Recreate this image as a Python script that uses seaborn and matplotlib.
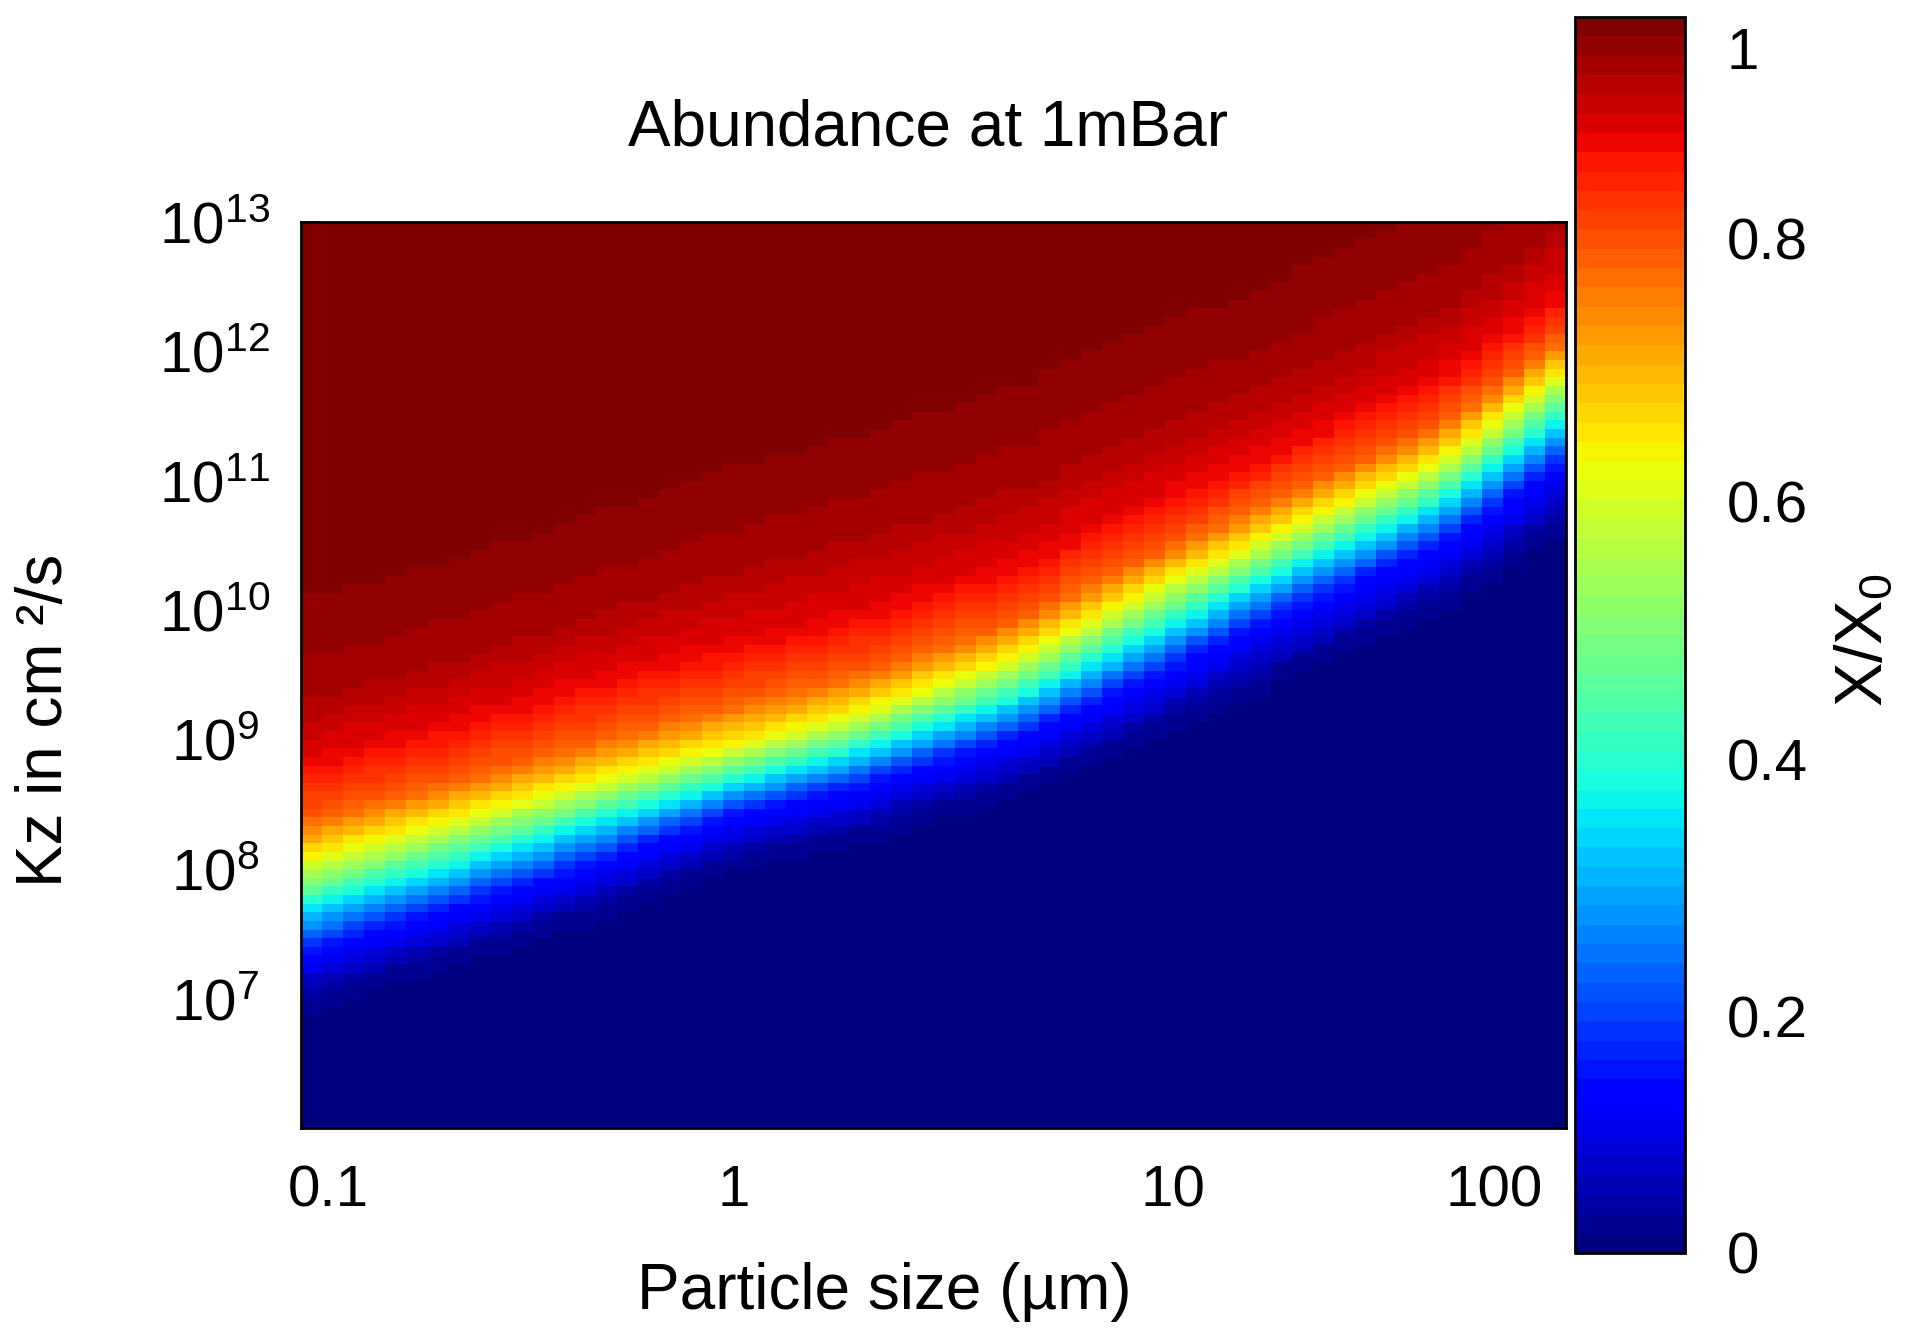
import numpy as np
import pandas as pd
import matplotlib
matplotlib.use("Agg")
import matplotlib.pyplot as plt
import seaborn as sns

# ---------------- data ----------------
# particle sizes (µm) at which the colour contours were read
size_pts = [0.1, 0.2, 0.5, 1, 2, 5, 10, 20, 50, 100]
# abundance levels (X/X0) of the read contours
levels = [0.02, 0.15, 0.38, 0.63, 0.80, 0.90, 0.96, 0.995]
# log10(Kz) position of each level contour at every size in size_pts
lvl_002 = [6.97, 7.28, 7.68, 8.05, 8.26, 8.64, 9.05, 9.50, 10.05, 10.70]
lvl_015 = [7.37, 7.66, 8.06, 8.41, 8.63, 9.03, 9.47, 9.95, 10.52, 11.17]
lvl_038 = [7.71, 7.99, 8.38, 8.66, 8.90, 9.33, 9.80, 10.27, 10.83, 11.52]
lvl_063 = [8.05, 8.32, 8.67, 8.92, 9.17, 9.63, 10.12, 10.57, 11.13, 11.85]
lvl_080 = [8.35, 8.62, 8.98, 9.25, 9.48, 9.92, 10.40, 10.85, 11.42, 12.12]
lvl_090 = [8.80, 9.05, 9.45, 9.70, 9.92, 10.35, 10.80, 11.22, 11.80, 12.45]
lvl_096 = [9.35, 9.62, 10.02, 10.35, 10.60, 11.00, 11.42, 11.80, 12.35, 13.05]
lvl_0995 = [10.40, 10.65, 11.05, 11.40, 11.65, 12.05, 12.45, 12.85, 13.40, 14.10]

x_tick_labels = ["0.1", "1", "10", "100"]
x_label_pos_log = [-0.936, 0.026, 1.069, 1.829]   # where the labels sit
x_tick_marks_log = [0, 1]                           # tick marks at 1 and 10
y_tick_exps = [7, 8, 9, 10, 11, 12, 13]
cbar_labels = ["0", "0.2", "0.4", "0.6", "0.8", "1"]
cbar_label_pos = [0.0, 0.191, 0.399, 0.608, 0.821, 0.975]
cbar_minor = [0.1, 0.2, 0.3, 0.4, 0.5, 0.6, 0.7, 0.8, 0.9]

# grid of the image (log10 size from -1 to 2, log10 Kz from 6 to 13)
n_cols, n_rows = 60, 105
logx_min, logx_max = -1.0, 2.0
logy_min, logy_max = 6.0, 13.0

# ---------------- build the cell grid ----------------
xe = np.linspace(logx_min, logx_max, n_cols + 1)
xc = 0.5 * (xe[:-1] + xe[1:])
ye = np.linspace(logy_max, logy_min, n_rows + 1)
yc = 0.5 * (ye[:-1] + ye[1:])
contours = np.array([lvl_002, lvl_015, lvl_038, lvl_063,
                     lvl_080, lvl_090, lvl_096, lvl_0995])
log_sizes = np.log10(size_pts)
Z = np.zeros((n_rows, n_cols))
for j, lx in enumerate(xc):
    pos = np.array([np.interp(lx, log_sizes, c) for c in contours])
    p_full = np.concatenate([[pos[0] - 0.45], pos, [pos[-1] + 0.6]])
    l_full = np.concatenate([[0.0], levels, [1.0]])
    Z[:, j] = np.interp(yc, p_full, l_full)

df = pd.DataFrame(Z, index=[f"{v:.3f}" for v in yc],
                  columns=[f"{v:.3f}" for v in xc])

# ---------------- plot ----------------
sns.set_theme(style="white")
plt.rcParams["font.family"] = ["Liberation Sans", "DejaVu Sans"]
plt.rcParams["mathtext.fontset"] = "custom"
plt.rcParams["mathtext.rm"] = "Liberation Sans"
plt.rcParams["mathtext.it"] = "Liberation Sans:italic"
plt.rcParams["mathtext.default"] = "regular"

W, H = 1906, 1329
fig = plt.figure(figsize=(W / 100, H / 100), dpi=100)
fig.patch.set_facecolor("white")
ax = fig.add_axes([301 / W, 1 - 1128 / H, 1265 / W, 906 / H])
cax = fig.add_axes([1575 / W, 1 - 1253 / H, 110 / W, 1236 / H])

cmap = plt.get_cmap("jet", 64)
sns.heatmap(df, ax=ax, cbar_ax=cax, cmap=cmap, vmin=0, vmax=1,
            xticklabels=False, yticklabels=False, linewidths=0)

for sp in ax.spines.values():
    sp.set_visible(True)
    sp.set_color("black")
    sp.set_linewidth(2)

def xpos(lx):
    return (np.asarray(lx) - logx_min) / (logx_max - logx_min) * n_cols

def ypos(ly):
    return (logy_max - np.asarray(ly)) / (logy_max - logy_min) * n_rows

ax.set_xticks(xpos(x_label_pos_log))
ax.set_xticklabels(x_tick_labels, fontsize=42, rotation=0, color="black")
ax.set_xticks(xpos(x_tick_marks_log), minor=True)
ax.tick_params(axis="x", which="major", length=0, pad=26)
ax.tick_params(axis="x", which="minor", direction="in", length=13, width=1.8,
               top=True, bottom=True, color="black")

ax.set_yticks(ypos(y_tick_exps))
ax.set_yticklabels([rf"$10^{{{e}}}$" for e in y_tick_exps], fontsize=42,
                   rotation=0, ha="center", color="black")
ax.tick_params(axis="y", which="major", direction="in", length=13, width=1.8,
               left=True, right=True, color="black", pad=62)

cbar = ax.collections[0].colorbar
cbar.outline.set_edgecolor("black")
cbar.outline.set_linewidth(2)
cbar.set_ticks(cbar_label_pos, labels=cbar_labels)
cbar.set_ticks(cbar_minor, minor=True)
cax.tick_params(which="major", length=0, labelsize=42, pad=30,
                labelcolor="black", right=True, left=False)
cax.tick_params(which="minor", direction="in", length=10, width=1.5,
                left=True, right=True, color="black")

fig.text(928 / W, 1 - 128 / H, "Abundance at 1mBar", fontsize=46,
         ha="center", va="center", color="black")
fig.text(884 / W, 1 - 1292 / H, "Particle size (µm)", fontsize=46,
         ha="center", va="center", color="black")
fig.text(45 / W, 1 - 720 / H, "Kz in cm ²/s", fontsize=46, rotation=90,
         ha="center", va="center", color="black")
fig.text(1865 / W, 1 - 640 / H, "X/X$_0$", fontsize=48, rotation=90,
         ha="center", va="center", color="black")

fig.savefig("out.png", dpi=100, facecolor="white")
